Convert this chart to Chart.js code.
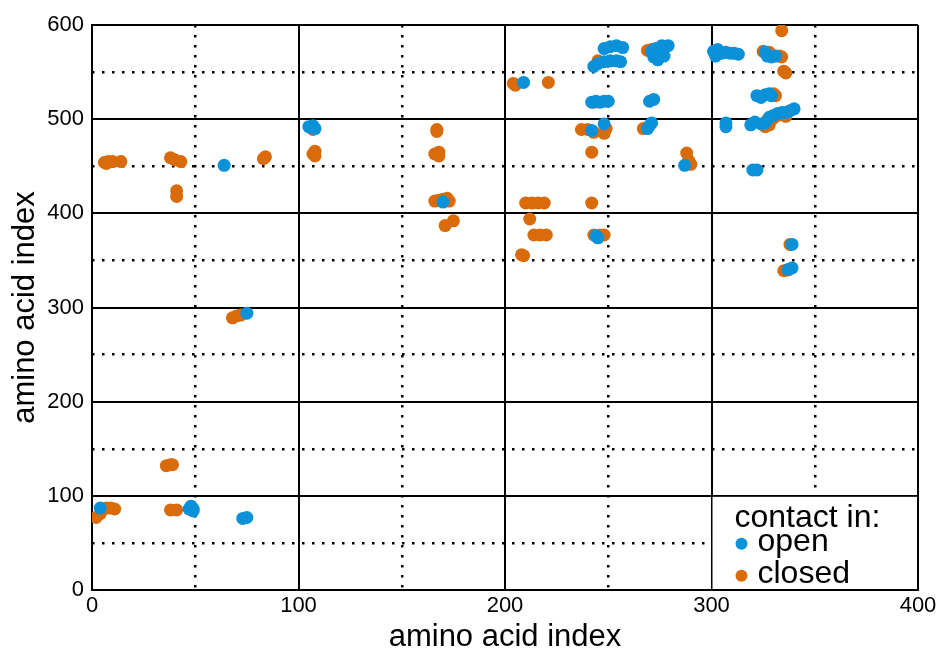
<!DOCTYPE html>
<html>
<head>
<meta charset="utf-8">
<title>amino acid contacts</title>
<script src="https://cdn.jsdelivr.net/npm/chart.js@4/dist/chart.umd.min.js"></script>
<style>
  html, body { margin: 0; padding: 0; background: #fff; }
  #wrap { width: 938px; height: 650px; }
</style>
</head>
<body>
<div id="wrap"><canvas id="c" width="938" height="650"></canvas></div>
<script>
// Residue pairs in contact, open conformation
const openX = [4, 48, 49, 49, 47, 73, 75, 75, 64, 105, 107, 108, 106, 170, 209, 244, 245,
  242, 248, 242, 244, 246, 248, 250, 243, 245, 248, 251, 254, 256, 248, 251, 254, 257,
  270, 272, 269, 270, 271, 271, 273, 276, 279, 272, 274, 277,
  301, 302, 303, 305, 307, 309, 311, 313, 326, 327, 329, 331,
  322, 324, 326, 328, 329, 328, 330, 332, 334, 336, 338, 340,
  307, 307, 319, 321, 324, 326, 287, 320, 322, 339, 337, 339];
const openY = [87, 89, 86, 84, 86, 76, 77, 294, 451, 492, 493, 490, 491, 412, 539, 376, 374,
  488, 495, 518, 519, 518, 519, 519, 556, 559, 561, 562, 562, 561, 575, 577, 578, 576,
  519, 521, 490, 493, 496, 572, 575, 578, 578, 566, 563, 567,
  572, 567, 574, 570, 571, 570, 570, 569, 571, 567, 566, 567,
  525, 523, 526, 527, 525, 502, 504, 506, 507, 507, 509, 511,
  496, 492, 494, 497, 495, 496, 451, 446, 446, 367, 340, 342];

// Residue pairs in contact, closed conformation
const closedX = [2, 4, 7, 9, 11, 38, 41, 36, 38, 39, 68, 70, 72,
  6, 7, 8, 10, 14, 38, 40, 43, 41, 41, 83, 84,
  107, 108, 108, 107, 167, 167, 166, 168, 168,
  166, 168, 170, 172, 173, 171, 175, 204, 205, 221,
  210, 213, 216, 219, 212, 214, 217, 220, 208, 209,
  242, 243, 246, 248, 242, 237, 240, 243, 248, 249, 243, 245, 267,
  269, 271, 288, 289, 290, 325, 328, 333, 334, 334, 335, 336,
  331, 330, 330, 332, 334, 336, 327, 326, 328, 338, 335, 337];
const closedY = [77, 81, 87, 87, 86, 85, 85, 132, 133, 133, 289, 291, 292,
  454, 453, 455, 455, 455, 459, 457, 455, 424, 418, 458, 460,
  489, 466, 461, 463, 489, 487, 463, 465, 461,
  413, 414, 415, 416, 413, 387, 392, 538, 536, 539,
  411, 411, 411, 411, 394, 377, 377, 377, 356, 355,
  411, 377, 377, 377, 465, 489, 489, 486, 485, 490, 518, 562, 490,
  573, 574, 464, 456, 452, 572, 571, 567, 566, 594, 551, 549,
  525, 527, 501, 504, 506, 503, 499, 492, 494, 367, 339, 340];

const legendTitle = 'contact in:';
const seriesNames = ['open', 'closed'];
const seriesColors = ['#0a91d8', '#d96b0b'];

const xTicks = [0, 100, 200, 300, 400];
const yTicks = [0, 100, 200, 300, 400, 500, 600];

const toPoints = (xs, ys) => xs.map((x, i) => ({ x: x, y: ys[i] }));

const FONT = '"Liberation Sans", Arial, Helvetica, sans-serif';

// Legend panel drawn inside the lower-right grid cell
const insideLegend = {
  id: 'insideLegend',
  afterDraw(chart) {
    const { ctx, scales } = chart;
    const x = scales.x, y = scales.y;
    const left = x.getPixelForValue(300) + 1;
    const right = x.getPixelForValue(400) - 1;
    const top = y.getPixelForValue(100) + 1;
    const bottom = y.getPixelForValue(0) - 1;
    ctx.save();
    ctx.fillStyle = '#fff';
    ctx.fillRect(left, top, right - left, bottom - top);
    ctx.fillStyle = '#000';
    ctx.font = '32px ' + FONT;
    ctx.textBaseline = 'middle';
    ctx.textAlign = 'left';
    ctx.fillText(legendTitle, left + 22, top + 21);
    chart.data.datasets.forEach((ds, i) => {
      const cy = top + 45 + i * 32;
      ctx.beginPath();
      ctx.fillStyle = ds.backgroundColor;
      ctx.arc(left + 29, cy + 2, 6, 0, Math.PI * 2);
      ctx.fill();
      ctx.fillStyle = '#000';
      ctx.fillText(ds.label, left + 45, cy);
    });
    ctx.restore();
  }
};

const majorColor = (ctx) => (ctx.tick && ctx.tick.value % 100 === 0) ? '#000' : 'rgba(0,0,0,0)';
const minorColor = (ctx) => (ctx.tick && ctx.tick.value % 100 !== 0) ? '#000' : 'rgba(0,0,0,0)';

new Chart(document.getElementById('c'), {
  type: 'scatter',
  data: {
    datasets: [
      {
        label: seriesNames[0],
        data: toPoints(openX, openY),
        backgroundColor: seriesColors[0],
        borderWidth: 0,
        pointRadius: 6.5,
        pointHoverRadius: 6.5
      },
      {
        label: seriesNames[1],
        data: toPoints(closedX, closedY),
        backgroundColor: seriesColors[1],
        borderWidth: 0,
        pointRadius: 6.5,
        pointHoverRadius: 6.5
      }
    ]
  },
  options: {
    responsive: false,
    animation: false,
    events: [],
    layout: { padding: { left: 0, right: 20, top: 25, bottom: 0 } },
    plugins: {
      legend: { display: false },
      tooltip: { enabled: false }
    },
    scales: {
      x: {
        type: 'linear', position: 'bottom', min: 0, max: 400,
        afterBuildTicks: (s) => { s.ticks = xTicks.map(v => ({ value: v })); },
        afterFit: (s) => { s.height = 60; },
        ticks: { color: '#000', font: { family: FONT, size: 22, lineHeight: 1.36 }, padding: 1, maxRotation: 0 },
        grid: { color: majorColor, lineWidth: 2, drawTicks: false },
        border: { color: '#000', width: 2 },
        title: {
          display: true, text: 'amino acid index', color: '#000',
          font: { family: FONT, size: 31, lineHeight: 0.8 }, padding: { top: 0, bottom: 0 }
        }
      },
      xMinor: {
        type: 'linear', position: 'top', min: 0, max: 400,
        afterFit: (s) => { s.height = 0; },
        ticks: { display: false, stepSize: 50 },
        grid: { color: minorColor, lineWidth: 2.5, drawTicks: false },
        border: { display: false, dash: [2.5, 7.5] }
      },
      y: {
        type: 'linear', position: 'left', min: 0, max: 600,
        afterBuildTicks: (s) => { s.ticks = yTicks.map(v => ({ value: v })); },
        afterFit: (s) => { s.width = 92; },
        ticks: { color: '#000', font: { family: FONT, size: 22 }, padding: 8 },
        grid: { color: majorColor, lineWidth: 2, drawTicks: false },
        border: { color: '#000', width: 2 },
        title: {
          display: true, text: 'amino acid index', color: '#000',
          font: { family: FONT, size: 31, lineHeight: 0.8 }, padding: { top: 13, bottom: 0 }
        }
      },
      yMinor: {
        type: 'linear', position: 'right', min: 0, max: 600,
        afterFit: (s) => { s.width = 0; },
        ticks: { display: false, stepSize: 50 },
        grid: { color: minorColor, lineWidth: 2.5, drawTicks: false },
        border: { display: false, dash: [2.5, 7.5] }
      }
    }
  },
  plugins: [insideLegend]
});
</script>
</body>
</html>
